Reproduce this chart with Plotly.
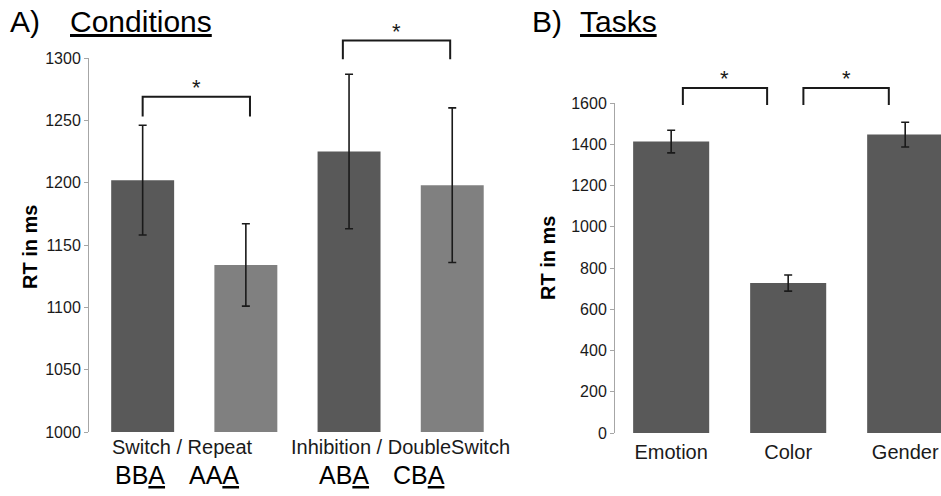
import plotly.graph_objects as go

# ---------------- data ----------------
cond_labels = ["Switch", "Repeat", "Inhibition", "DoubleSwitch"]
cond_codes = ["BB<u>A</u>", "AA<u>A</u>", "AB<u>A</u>", "CB<u>A</u>"]
cond_rt = [1202, 1134, 1225, 1198]
cond_err = [44, 33, 62, 62]
group_labels = ["Switch / Repeat", "Inhibition / DoubleSwitch"]
cond_ticks = [1000, 1050, 1100, 1150, 1200, 1250, 1300]

task_labels = ["Emotion", "Color", "Gender"]
task_rt = [1413, 727, 1447]
task_err = [55, 39, 60]
task_ticks = [0, 200, 400, 600, 800, 1000, 1200, 1400, 1600]

# significance brackets: (left index, right index, top value, bottom value)
cond_sig = [(0, 1, 1269, 1253), (2, 3, 1314, 1299)]
task_sig = [(0, 1, 1673, 1590), (1, 2, 1673, 1590)]

# ---------------- style ----------------
W, H = 941, 496
FONT = "Liberation Sans, Arial, sans-serif"
DARK = "#595959"
LIGHT = "#808080"
AX = "#a6a6a6"
TXT = "#1a1a1a"

cond_colors = [DARK, LIGHT, DARK, LIGHT]
task_colors = [DARK, DARK, DARK]

fig = go.Figure()

fig.add_trace(go.Bar(
    x=cond_labels, y=cond_rt,
    marker=dict(color=cond_colors, line=dict(width=0)),
    width=0.61,
    error_y=dict(type="data", array=cond_err, color=TXT, thickness=1.6, width=4),
    xaxis="x", yaxis="y", showlegend=False,
))

fig.add_trace(go.Bar(
    x=task_labels, y=task_rt,
    marker=dict(color=task_colors, line=dict(width=0)),
    width=0.65,
    error_y=dict(type="data", array=task_err, color=TXT, thickness=1.6, width=4),
    xaxis="x2", yaxis="y2", showlegend=False,
))

yaxis_common = dict(
    showline=True, linecolor=AX, linewidth=1,
    ticks="outside", ticklen=4, tickcolor=AX, tickwidth=1,
    showgrid=False, zeroline=False, automargin=False,
    tickfont=dict(family=FONT, size=16, color=TXT),
)

cond_range = [1000, 1300]
task_range = [0, 1600]

fig.update_layout(
    width=W, height=H,
    margin=dict(l=0, r=0, t=0, b=0, autoexpand=False),
    paper_bgcolor="white", plot_bgcolor="white",
    showlegend=False, bargap=0.3,
    font=dict(family=FONT, color=TXT),
    xaxis=dict(domain=[89 / W, 509 / W], type="category",
               range=[-0.52, 3.55], showticklabels=False, automargin=False,
               showline=False, ticks="", showgrid=False, zeroline=False),
    yaxis=dict(domain=[64 / H, 438 / H], range=cond_range,
               tickvals=cond_ticks, **yaxis_common),
    xaxis2=dict(domain=[615 / W, 1.0], type="category",
                range=[-0.48, 2.306], anchor="y2", automargin=False,
                showline=False, ticks="", showgrid=False, zeroline=False,
                tickfont=dict(family=FONT, size=20, color=TXT),
                ticklabelstandoff=5),
    yaxis2=dict(domain=[63 / H, 393 / H], range=task_range, anchor="x2",
                tickvals=task_ticks, **yaxis_common),
)


def frac(v, rng):
    return (v - rng[0]) / (rng[1] - rng[0])


shapes = []
annotations = []


def add_bracket(xr, yr, rng, x0, x1, top, bot):
    yt = frac(top, rng)
    yb = frac(bot, rng)
    shapes.append(dict(
        type="path", xref=xr, yref=yr + " domain",
        path=f"M {x0},{yb} L {x0},{yt} L {x1},{yt} L {x1},{yb}",
        line=dict(color=TXT, width=2),
    ))
    annotations.append(dict(
        x=(x0 + x1) / 2, y=yt, xref=xr, yref=yr + " domain",
        text="*", showarrow=False, yanchor="bottom", yshift=-5,
        font=dict(family=FONT, size=22, color=TXT),
    ))


# bracket x offsets relative to bar centres
cond_off = [(0.0, 0.04), (-0.06, -0.02)]
task_off = [(0.1, -0.18), (0.13, -0.14)]
for (i, j, t, b), (o0, o1) in zip(cond_sig, cond_off):
    add_bracket("x", "y", cond_range, i + o0, j + o1, t, b)
for (i, j, t, b), (o0, o1) in zip(task_sig, task_off):
    add_bracket("x2", "y2", task_range, i + o0, j + o1, t, b)

# panel titles
annotations += [
    dict(x=8 / W, y=1 - 22 / H, xref="paper", yref="paper", text="A)",
         showarrow=False, xanchor="left", yanchor="middle",
         font=dict(family=FONT, size=30, color="black")),
    dict(x=68 / W, y=1 - 22 / H, xref="paper", yref="paper",
         text="<u>Conditions</u>", showarrow=False, xanchor="left",
         yanchor="middle", font=dict(family=FONT, size=30, color="black")),
    dict(x=530 / W, y=1 - 22 / H, xref="paper", yref="paper", text="B)",
         showarrow=False, xanchor="left", yanchor="middle",
         font=dict(family=FONT, size=30, color="black")),
    dict(x=578 / W, y=1 - 22 / H, xref="paper", yref="paper",
         text="<u>Tasks</u>", showarrow=False, xanchor="left",
         yanchor="middle", font=dict(family=FONT, size=30, color="black")),
]

# y-axis titles
annotations += [
    dict(x=30 / W, y=1 - 247 / H, xref="paper", yref="paper",
         text="<b>RT in ms</b>", textangle=-90, showarrow=False,
         xanchor="center", yanchor="middle",
         font=dict(family=FONT, size=20, color="black")),
    dict(x=548 / W, y=1 - 258 / H, xref="paper", yref="paper",
         text="<b>RT in ms</b>", textangle=-90, showarrow=False,
         xanchor="center", yanchor="middle",
         font=dict(family=FONT, size=20, color="black")),
]

# group labels under the left panel
for g, lab in enumerate(group_labels):
    annotations.append(dict(
        x=2 * g + 0.5, y=0, xref="x", yref="y domain", text=lab,
        showarrow=False, yanchor="top", yshift=-2,
        xshift=-12 if g == 0 else 0,
        font=dict(family=FONT, size=20, color=TXT)))

# condition codes, pulled toward the slash between each pair
code_shift = [-3, -32, -5, -33]
for i, code in enumerate(cond_codes):
    annotations.append(dict(
        x=i, y=0, xref="x", yref="y domain", text=code,
        showarrow=False, yanchor="top", yshift=-27, xshift=code_shift[i],
        font=dict(family=FONT, size=25, color="black")))

fig.update_layout(shapes=shapes, annotations=annotations)

fig.write_html(
    "out.html",
    config={"displayModeBar": False},
    post_script="document.body.style.margin='0px';"
                "document.body.style.overflow='hidden';",
)
